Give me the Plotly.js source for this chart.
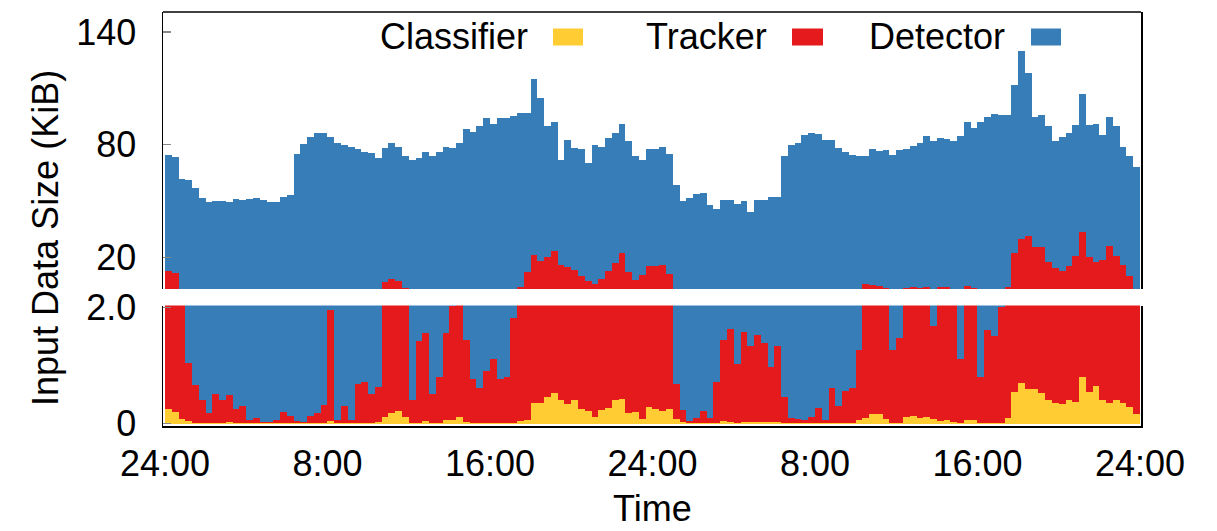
<!DOCTYPE html>
<html><head><meta charset="utf-8">
<script src="https://cdn.plot.ly/plotly-3.0.1.min.js"></script>
<style>html,body{margin:0;padding:0;background:#fff}#chart{width:1217px;height:531px}</style>
</head><body><div id="chart"></div>
<script>
// 20-minute bins over 48 hours (144 bins), values in KiB
const binMinutes = 20;

const classifier = [
0.26,0.2,0.08,0.05,0.01,0.01,0.01,0.01,0.01,0.03,
0.01,0.01,0.01,0.01,0.01,0.01,0.01,0.01,0.01,0.01,
0.01,0.01,0.01,0.01,0.05,0.01,0.01,0.01,0.02,0.01,
0.01,0.03,0.11,0.18,0.22,0.12,0.01,0.02,0.05,0.01,
0.01,0.06,0.07,0.12,0.03,0.01,0.01,0.01,0.01,0.01,
0.01,0.02,0.04,0.07,0.35,0.36,0.45,0.52,0.4,0.33,
0.4,0.26,0.21,0.12,0.24,0.27,0.4,0.42,0.18,0.2,
0.08,0.28,0.25,0.22,0.26,0.08,0.03,0.01,0.01,0.01,
0.01,0.02,0.04,0.03,0.02,0.03,0.03,0.03,0.03,0.03,
0.03,0.01,0.01,0.01,0.01,0.01,0.01,0.01,0.01,0.01,
0.01,0.01,0.06,0.09,0.16,0.17,0.08,0.01,0.02,0.12,
0.13,0.1,0.12,0.08,0.05,0.06,0.03,0.01,0.06,0.06,
0.01,0.01,0.01,0.01,0.09,0.55,0.7,0.6,0.6,0.52,
0.4,0.36,0.33,0.4,0.38,0.8,0.55,0.65,0.4,0.35,
0.4,0.35,0.28,0.17
];

const tracker = [
12.4,11.5,2.3,1.0,0.65,0.4,0.17,0.5,0.39,0.46,
0.25,0.3,0.05,0.08,0.02,0.02,0.05,0.19,0.12,0.03,
0.02,0.12,0.17,0.31,1.9,0.05,0.3,0.05,0.66,0.7,
0.5,0.6,7,8.3,7.5,3.5,0.4,1.4,1.5,0.5,
0.8,1.5,1.95,2.2,1.4,0.75,0.6,0.9,1.1,0.75,
0.8,1.8,4.4,12,21,18,20,23,15.5,14.8,
13,10,7,5.8,8.2,12.5,16.8,22,12,8,
10.5,15,15,15.8,11,0.6,0.2,0.03,0.08,0.2,
0.08,0.7,1.4,1.6,1.0,1.55,1.3,1.5,1.35,0.95,
1.3,0.45,0.08,0.07,0.06,0.1,0.26,0.05,0.6,0.3,
0.55,0.6,1.2,6,5.3,4.7,3.5,1.25,1.45,3.5,
4,3.8,4,1.6,4.4,4.3,3,1.1,4.7,3.5,
0.8,1.6,1.5,2,4,22,29.3,31,25,25,
17,14.2,12.5,15,20.4,33,19.5,17,18,26,
20.4,15.4,10,2.5
];

const detector = [
62.0,61.7,59.3,60.3,56.2,51.1,49.3,49.5,49.6,49.2,
50.7,50.3,50.9,51.4,50.6,49.7,49.7,52.2,52.9,75.0,
80.5,83.9,86.0,85.9,82.0,80.9,79.7,78.9,76.8,75.3,
75.0,72.4,70.9,72.5,71.3,70.4,71.6,71.5,74.4,73.5,
75.2,77.4,76.0,78.7,87.0,86.2,89.2,93.1,89.9,93.5,
93.2,93.4,92.6,84.9,93.4,86.6,69.6,68.5,56.1,67.4,
64.6,67.7,62.8,74.1,70.1,70.8,69.0,68.6,69.8,65.8,
61.4,62.3,62.5,62.8,63.7,58.0,49.8,51.5,53.6,54.0,
47.9,45.3,48.9,48.7,47.5,48.7,42.7,48.8,49.1,51.4,
50.7,73.5,79.9,80.9,84.9,86.1,85.7,82.2,81.7,77.9,
75.4,73.9,72.7,67.7,72.5,71.6,73.7,73.4,75.5,73.9,
75.4,77.1,80.4,80.3,79.2,78.6,78.8,83.4,87.2,85.4,
91.2,93.4,95.1,94.0,91.9,89.5,99.9,86.4,69.4,70.5,
72.6,67.4,71.2,70.6,69.9,73.2,70.7,73.4,66.6,68.5,
69.2,63.3,63.5,65.3
];

const seriesNames = ['Classifier', 'Tracker', 'Detector'];
const tickHours = [0, 8, 16, 24, 32, 40, 48];
const tickLabels = ['24:00', '8:00', '16:00', '24:00', '8:00', '16:00', '24:00'];
const topTicks = [20, 80, 140];
const bottomTicks = [0, 2];
const bottomTickText = ['0', '2.0'];

// ---- styling / geometry ----
const W = 1217, H = 531;
const M = {l: 163, r: 76, t: 12, b: 105};
const plotW = W - M.l - M.r, plotH = H - M.t - M.b;
const px2x = p => (p - M.l) / plotW;
const px2y = p => (H - M.b - p) / plotH;
const colors = ['#ffcc33', '#e41a1c', '#377eb8'];
const FONT = 'Liberation Sans, Arial, Helvetica, sans-serif';

const hours = classifier.map((_, i) => (i + 0.5) * binMinutes / 60);
const series = [classifier, tracker, detector];

const traces = [];
['y', 'y2'].forEach(ax => {
  series.forEach((vals, k) => {
    traces.push({
      type: 'bar', x: hours, y: vals, yaxis: ax, name: seriesNames[k],
      width: binMinutes / 60,
      marker: {color: colors[k], line: {width: 0}},
      showlegend: false, hoverinfo: 'skip'
    });
  });
});

const axisCommon = {
  showgrid: false, zeroline: false, showline: true, linecolor: '#000', linewidth: 1.5,
  mirror: true, ticks: 'inside', ticklen: 8, tickwidth: 1.5, tickcolor: '#888',
  tickfont: {size: 36, color: '#000'}, ticklabelstandoff: 18
};

const shapes = [
  {type: 'line', xref: 'paper', yref: 'paper', x0: 0, x1: 1, y0: 1, y1: 1,
   line: {color: '#000', width: 1.5}}
];
const legendItems = [
  {textRight: 530, sw: [553, 583]},
  {textRight: 769, sw: [792, 823]},
  {textRight: 1007, sw: [1031, 1061]}
];
const annotations = [];
legendItems.forEach((it, k) => {
  annotations.push({
    xref: 'paper', yref: 'paper', x: px2x(it.textRight), y: px2y(36),
    xanchor: 'right', yanchor: 'middle', showarrow: false,
    text: seriesNames[k], font: {size: 36, color: '#000'}
  });
  shapes.push({
    type: 'rect', xref: 'paper', yref: 'paper',
    x0: px2x(it.sw[0]), x1: px2x(it.sw[1]), y0: px2y(45.5), y1: px2y(28.5),
    fillcolor: colors[k], line: {width: 0}
  });
});
annotations.push({
  xref: 'paper', yref: 'paper', x: px2x(45), y: px2y(238), textangle: -90,
  xanchor: 'center', yanchor: 'middle', showarrow: false,
  text: 'Input Data Size (KiB)', font: {size: 36, color: '#000'}
});
annotations.push({
  xref: 'paper', yref: 'paper', x: px2x(652), y: px2y(H - 1),
  xanchor: 'center', yanchor: 'bottom', showarrow: false, borderpad: 0,
  text: 'Time', font: {size: 36, color: '#000'}
});

const layout = {
  width: W, height: H, margin: M,
  paper_bgcolor: '#fff', plot_bgcolor: '#fff',
  font: {family: FONT, size: 36, color: '#000'},
  barmode: 'stack', bargap: 0, showlegend: false,
  xaxis: {
    range: [-0.098, 48.05], tickvals: tickHours, ticktext: tickLabels,
    ticks: '', showgrid: false, zeroline: false, showline: true, linecolor: '#000',
    linewidth: 1.5, mirror: false, anchor: 'y',
    tickfont: {size: 36, color: '#000'}, ticklabelstandoff: 5
  },
  yaxis: Object.assign({}, axisCommon, {
    domain: [0, px2y(305.5)], range: [-0.04, 2.03],
    tickvals: bottomTicks, ticktext: bottomTickText
  }),
  yaxis2: Object.assign({}, axisCommon, {
    domain: [px2y(289), 1], range: [3.2, 150.65], anchor: 'x',
    tickvals: topTicks, ticktext: topTicks.map(String)
  }),
  shapes: shapes, annotations: annotations
};

Plotly.newPlot('chart', traces, layout, {displayModeBar: false, staticPlot: true});
</script>
</body></html>
